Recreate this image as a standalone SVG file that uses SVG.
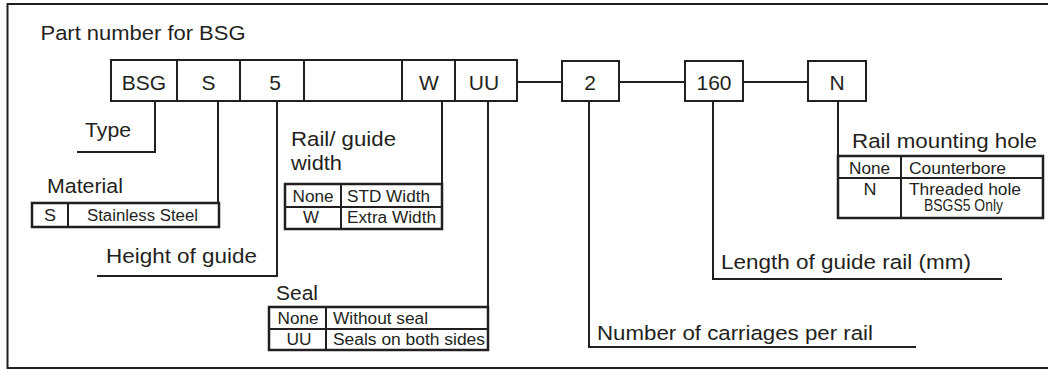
<svg xmlns="http://www.w3.org/2000/svg" width="1048" height="370" viewBox="0 0 1048 370">
<style>
text{font-family:"Liberation Sans",Arial,sans-serif;fill:#231f20}
.big{font-size:20.5px}
.box{font-size:21px;text-anchor:middle}
.tb{font-size:16px}
.c{text-anchor:middle}
.s{fill:#fff;stroke:#231f20;stroke-width:2}
.t{fill:#fff;stroke:#231f20;stroke-width:2.5}
.l{fill:none;stroke:#231f20;stroke-width:2}
</style>
<rect x="7.5" y="4" width="1050" height="364" class="l"/>
<text class="big" x="40.5" y="40" textLength="205" lengthAdjust="spacingAndGlyphs">Part number for BSG</text>

<g id="connectors">
<path class="l" d="M517 82H562M619 82H685M743 82H808"/>
<path class="l" d="M155 101V152H77"/>
<path class="l" d="M218 101V203"/>
<path class="l" d="M277 101V276H97"/>
<path class="l" d="M442 101V184"/>
<path class="l" d="M488 101V307"/>
<path class="l" d="M589 101V347H916"/>
<path class="l" d="M713 101V279H1002"/>
<path class="l" d="M838 101V156"/>
</g>

<g id="code">
<rect class="s" x="111" y="60" width="406" height="41"/>
<path class="l" d="M177 60V101M240 60V101M304 60V101M402 60V101M455 60V101"/>
<text class="box" x="144" y="90">BSG</text>
<text class="box" x="208.5" y="90">S</text>
<text class="box" x="275" y="90">5</text>
<text class="box" x="429" y="90">W</text>
<text class="box" x="484" y="90">UU</text>
</g>

<g id="carriages-box">
<rect class="s" x="562" y="61" width="57" height="40"/>
<text class="box" x="590" y="90">2</text>
</g>
<g id="length-box">
<rect class="s" x="685" y="61" width="58" height="40"/>
<text class="box" x="714" y="90">160</text>
</g>
<g id="hole-box">
<rect class="s" x="808" y="61" width="58" height="40"/>
<text class="box" x="837" y="90">N</text>
</g>

<g id="type">
<text class="big" x="85" y="137" textLength="46" lengthAdjust="spacingAndGlyphs">Type</text>
</g>

<g id="material">
<text class="big" x="47" y="193" textLength="76" lengthAdjust="spacingAndGlyphs">Material</text>
<rect class="t" x="32" y="203" width="187" height="24"/>
<path class="l" d="M68 203V227"/>
<text class="tb c" x="50" y="221" textLength="12" lengthAdjust="spacingAndGlyphs">S</text>
<text class="tb" x="87" y="221" textLength="111" lengthAdjust="spacingAndGlyphs">Stainless Steel</text>
</g>

<g id="height">
<text class="big" x="106" y="263" textLength="151" lengthAdjust="spacingAndGlyphs">Height of guide</text>
</g>

<g id="width">
<text class="big" x="291" y="146" textLength="105" lengthAdjust="spacingAndGlyphs">Rail/ guide</text>
<text class="big" x="291" y="170" textLength="51" lengthAdjust="spacingAndGlyphs">width</text>
<rect class="t" x="285" y="184" width="157" height="45"/>
<path class="l" d="M285 207H442M341 184V229"/>
<text class="tb c" x="313" y="202" textLength="41" lengthAdjust="spacingAndGlyphs">None</text>
<text class="tb" x="347" y="202" textLength="83" lengthAdjust="spacingAndGlyphs">STD Width</text>
<text class="tb c" x="311" y="223" textLength="16" lengthAdjust="spacingAndGlyphs">W</text>
<text class="tb" x="347" y="223" textLength="89" lengthAdjust="spacingAndGlyphs">Extra Width</text>
</g>

<g id="seal">
<text class="big" x="276" y="300" textLength="42" lengthAdjust="spacingAndGlyphs">Seal</text>
<rect class="t" x="269" y="307" width="219" height="43"/>
<path class="l" d="M269 329H488M326 307V350"/>
<text class="tb c" x="298" y="324" textLength="41" lengthAdjust="spacingAndGlyphs">None</text>
<text class="tb" x="333" y="324" textLength="95" lengthAdjust="spacingAndGlyphs">Without seal</text>
<text class="tb c" x="299" y="345" textLength="25" lengthAdjust="spacingAndGlyphs">UU</text>
<text class="tb" x="333" y="345" textLength="152" lengthAdjust="spacingAndGlyphs">Seals on both sides</text>
</g>

<g id="carriages">
<text class="big" x="597" y="340" textLength="276" lengthAdjust="spacingAndGlyphs">Number of carriages per rail</text>
</g>

<g id="length">
<text class="big" x="721" y="269" textLength="250" lengthAdjust="spacingAndGlyphs">Length of guide rail (mm)</text>
</g>

<g id="hole">
<text class="big" x="852" y="148" textLength="185" lengthAdjust="spacingAndGlyphs">Rail mounting hole</text>
<rect class="t" x="838" y="156" width="205" height="62"/>
<path class="l" d="M838 178H1043M901 156V218"/>
<text class="tb c" x="869.5" y="174" textLength="41" lengthAdjust="spacingAndGlyphs">None</text>
<text class="tb" x="909" y="174" textLength="97" lengthAdjust="spacingAndGlyphs">Counterbore</text>
<text class="tb c" x="870" y="195" textLength="13" lengthAdjust="spacingAndGlyphs">N</text>
<text class="tb" x="909" y="195" textLength="112" lengthAdjust="spacingAndGlyphs">Threaded hole</text>
<text style="font-size:16px" x="924" y="211" textLength="79" lengthAdjust="spacingAndGlyphs">BSGS5 Only</text>
</g>
</svg>
